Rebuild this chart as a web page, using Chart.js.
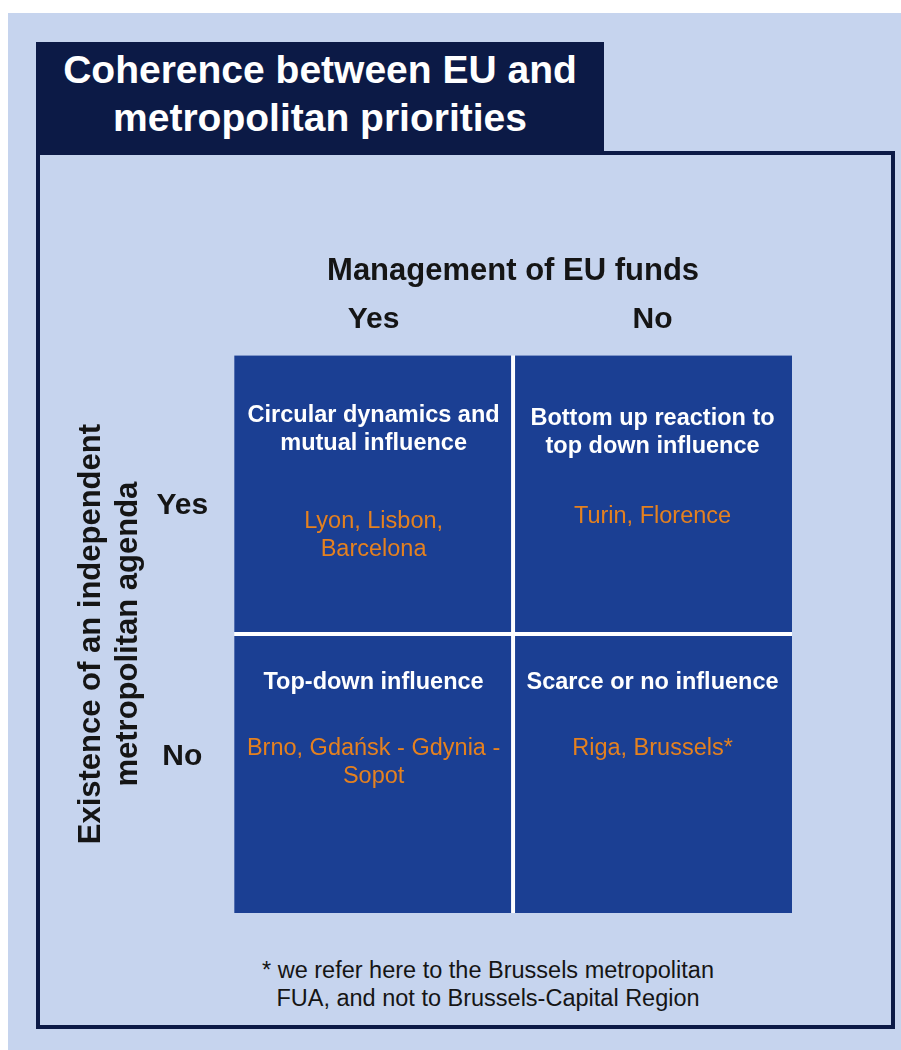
<!DOCTYPE html>
<html>
<head>
<meta charset="utf-8">
<script src="https://cdn.jsdelivr.net/npm/chart.js@4/dist/chart.umd.min.js"></script>
<style>
  html, body { margin: 0; padding: 0; background: #ffffff; }
  body { width: 901px; height: 1050px; position: relative; overflow: hidden; font-family: "Liberation Sans", Arial, sans-serif; }
  #bg { position: absolute; left: 8px; top: 13px; right: 0; bottom: 0; background: #c6d4ee; }
  #frame { position: absolute; left: 36px; top: 151px; width: 859px; height: 878px; box-sizing: border-box; border: 4px solid #0c1a46; }
  #titlebox { position: absolute; left: 36px; top: 42px; width: 568px; height: 109px; background: #0c1a46; color: #ffffff;
    font-weight: bold; font-size: 39px; line-height: 48px; text-align: center; box-sizing: border-box; padding-top: 4px; }
  #note { position: absolute; left: 188px; top: 956px; width: 600px; text-align: center; font-size: 23.5px; line-height: 28px; color: #151515; }
  #wrap { position: absolute; left: 0; top: 0; width: 901px; height: 1050px; }
</style>
</head>
<body>
<div id="bg"></div>
<div id="frame"></div>
<div id="titlebox">Coherence between EU and<br>metropolitan priorities</div>
<div id="note">* we refer here to the Brussels metropolitan<br>FUA, and not to Brussels-Capital Region</div>
<div id="wrap"><canvas id="matrix"></canvas></div>
<script>
// Axes of the matrix
var xTitle = "Management of EU funds";
var yTitle = ["Existence of an independent", "metropolitan agenda"];
var colLabels = ["Yes", "No"];   // management of EU funds
var rowLabels = ["Yes", "No"];   // independent metropolitan agenda (top to bottom)

// Cell contents, row by row, column by column
var cellTitles = [
  [["Circular dynamics and", "mutual influence"], ["Bottom up reaction to", "top down influence"]],
  [["Top-down influence"], ["Scarce or no influence"]]
];
var cellCities = [
  [["Lyon, Lisbon,", "Barcelona"], ["Turin, Florence"]],
  [["Brno, Gdańsk - Gdynia -", "Sopot"], ["Riga, Brussels*"]]
];

// where the text sits inside a cell (share of cell height from its top)
var textPos = [
  [{ title: 0.215, cities: 0.595 }, { title: 0.226, cities: 0.577 }],
  [{ title: 0.172, cities: 0.409 }, { title: 0.172, cities: 0.409 }]
];
// row labels sit a little toward the middle of the matrix
var rowTickNudge = [-0.04, 0.06];

var NAVY = "#0c1a46";
var CELL = "#1b3f93";
var ORANGE = "#e5811f";
var DARK = "#151515";

Chart.defaults.font.family = "'Liberation Sans', Arial, sans-serif";

// one dataset per row, a floating bar per column
var nRows = rowLabels.length;
var datasets = rowLabels.map(function (r, i) {
  return {
    label: r,
    data: colLabels.map(function () { return [nRows - i - 1, nRows - i]; }),
    backgroundColor: CELL,
    borderColor: "#ffffff",
    borderSkipped: false,
    inflateAmount: 0,
    grouped: false,
    barPercentage: 1,
    categoryPercentage: 1,
    borderWidth: function (ctx) {
      var c = ctx.dataIndex;
      return {
        top: i > 0 ? 2 : 0,
        bottom: i < nRows - 1 ? 2 : 0,
        left: c > 0 ? 2 : 0,
        right: c < colLabels.length - 1 ? 2 : 0
      };
    }
  };
});

var cellText = {
  id: "cellText",
  afterDatasetsDraw: function (chart) {
    var ctx = chart.ctx;
    var xs = chart.scales.x, ys = chart.scales.y;
    ctx.save();
    ctx.textAlign = "center";
    ctx.textBaseline = "middle";
    for (var r = 0; r < nRows; r++) {
      var top = ys.getPixelForValue(nRows - r);
      var bottom = ys.getPixelForValue(nRows - r - 1);
      var h = bottom - top;
      for (var c = 0; c < colLabels.length; c++) {
        var cx = xs.getPixelForValue(c);
        var pos = textPos[r][c];
        ctx.fillStyle = "#ffffff";
        ctx.font = "bold 23.5px 'Liberation Sans', Arial, sans-serif";
        cellTitles[r][c].forEach(function (line, k) {
          ctx.fillText(line, cx, top + h * pos.title + k * 28);
        });
        ctx.fillStyle = ORANGE;
        ctx.font = "23.5px 'Liberation Sans', Arial, sans-serif";
        cellCities[r][c].forEach(function (line, k) {
          ctx.fillText(line, cx, top + h * pos.cities + k * 28);
        });
      }
    }
    ctx.restore();
  }
};

new Chart(document.getElementById("matrix"), {
  type: "bar",
  data: { labels: colLabels, datasets: datasets },
  plugins: [cellText],
  options: {
    responsive: true,
    maintainAspectRatio: false,
    animation: false,
    events: [],
    layout: { padding: { left: 71, top: 250, right: 109, bottom: 137 } },
    plugins: { legend: { display: false }, tooltip: { enabled: false } },
    scales: {
      x: {
        position: "top",
        grid: { display: false, drawTicks: false },
        border: { display: false },
        ticks: { color: DARK, padding: 17, font: { size: 30, weight: "bold" } },
        title: { display: true, text: xTitle, color: DARK, padding: { top: 3, bottom: -5 },
                 font: { size: 31, weight: "bold", lineHeight: 1.2 } }
      },
      y: {
        min: 0,
        max: nRows,
        grid: { display: false, drawTicks: false },
        border: { display: false },
        afterBuildTicks: function (axis) {
          axis.ticks = rowLabels.map(function (r, i) { return { value: nRows - i - 0.5 + rowTickNudge[i] }; });
        },
        ticks: {
          color: DARK, padding: 26, crossAlign: "center",
          font: { size: 30, weight: "bold" },
          callback: function (v) { return rowLabels[nRows - 1 - Math.floor(v)]; }
        },
        title: { display: true, text: yTitle, color: DARK, padding: { top: 2, bottom: -17 },
                 font: { size: 31, weight: "bold", lineHeight: 1.2 } }
      }
    }
  }
});
</script>
</body>
</html>
